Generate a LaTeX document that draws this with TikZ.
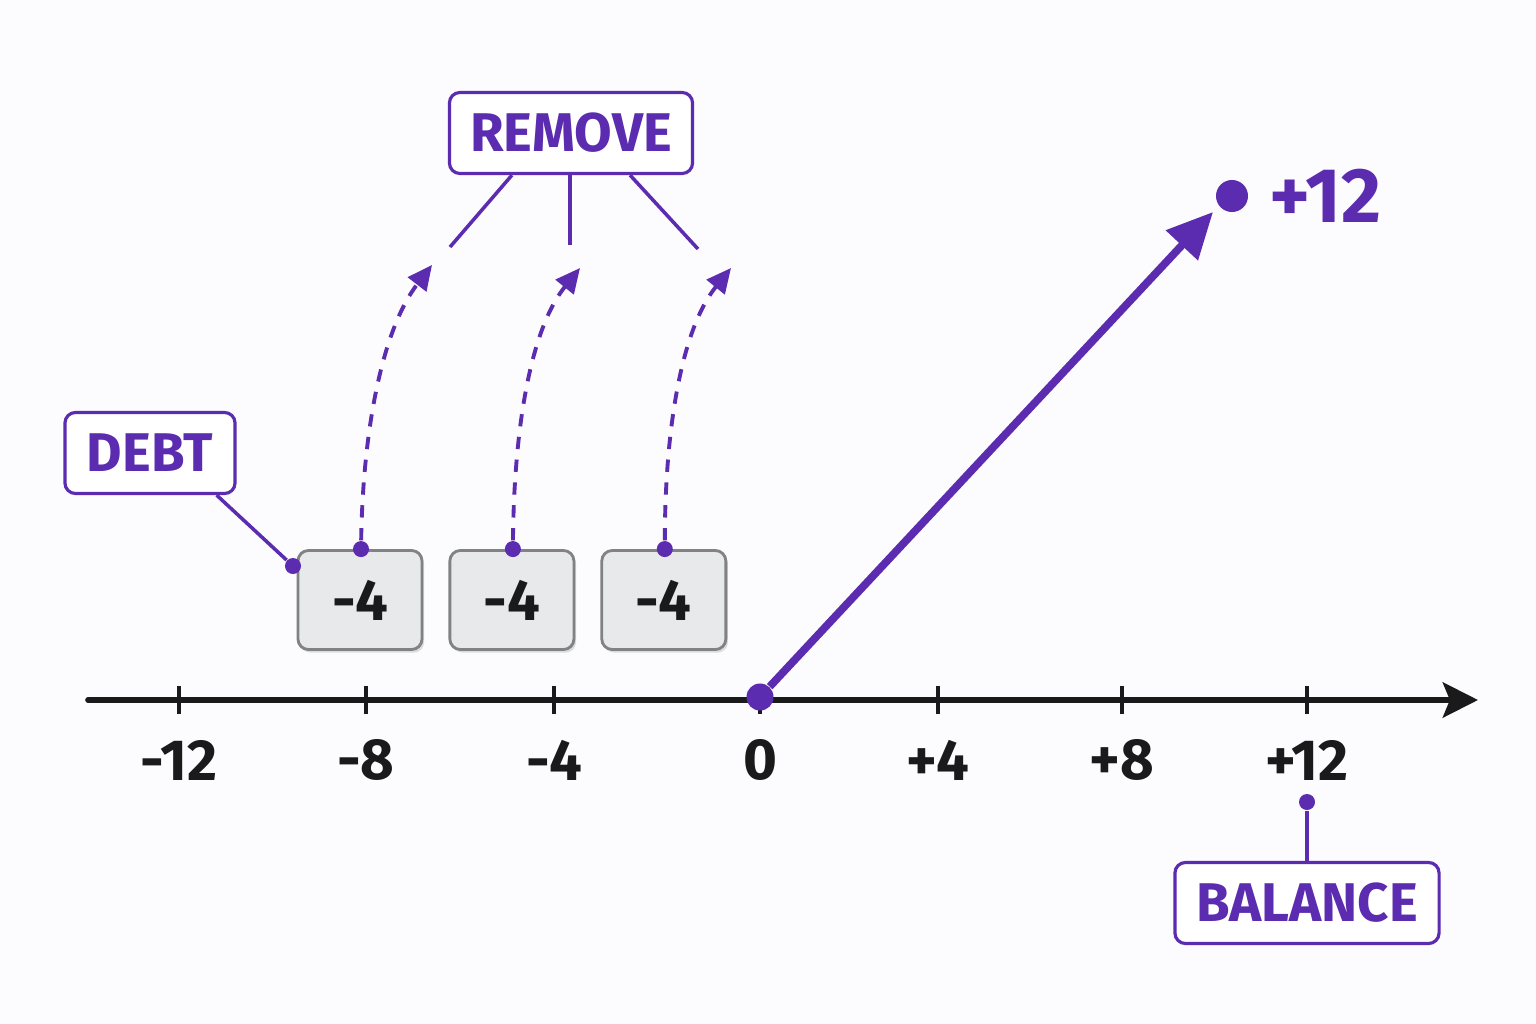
\documentclass[tikz,border=0pt]{standalone}
\usepackage{fontspec}
\setmainfont{Fira Sans}
\usepackage{tikz}
\usetikzlibrary{positioning, arrows.meta, shadows}
\definecolor{purp}{HTML}{5B2BB0}
\definecolor{chipfill}{HTML}{E8E9EB}
\definecolor{chipedge}{HTML}{808285}
\definecolor{ink}{HTML}{1A1A1A}
\definecolor{paper}{HTML}{FCFBFE}

\begin{document}
\begin{tikzpicture}[x=0.01cm, y=-0.01cm]
    % styles
    \tikzstyle{cell} = [rectangle, rounded corners=3pt, minimum width=1.24cm, minimum height=0.99cm, fill=chipfill, draw=chipedge, line width=0.8pt, drop shadow={opacity=0.25, shadow xshift=0.6pt, shadow yshift=-0.9pt}, text=ink, font=\fontsize{16.5}{18}\selectfont\bfseries]
    \tikzstyle{labelbox} = [rectangle, rounded corners=3pt, minimum height=0.81cm, draw=purp, line width=0.9pt, fill=white, text=purp, font=\fontsize{15.5}{18}\selectfont\bfseries]
    \tikzstyle{link} = [line width=1pt, draw=purp]
    \tikzstyle{lift} = [line width=1.1pt, draw=purp, dash pattern=on 3.5pt off 3pt, -{Triangle[length=7pt,width=6.5pt]}]
    \tikzstyle{knob} = [circle, fill=purp, inner sep=0pt, minimum size=0.16cm]
    \tikzstyle{axis} = [line width=1.6pt, draw=ink, line cap=round, -{Stealth[length=10pt,width=10pt,inset=2pt]}]
    \tikzstyle{tick} = [line width=1pt, draw=ink]
    \tikzstyle{ticklabel} = [text=ink, inner sep=0pt, font=\fontsize{16.5}{18}\selectfont\bfseries]
    \tikzstyle{vec} = [line width=2.2pt, draw=purp, -{Triangle[length=13pt,width=12pt]}]

    % canvas
    \fill[paper] (0,0) rectangle (1536,1024);
    \useasboundingbox (0,0) rectangle (1536,1024);

    % number line
    \coordinate (axl) at (88,700);
    \coordinate (axr) at (1478,700);
    \draw [axis] (axl) -- (axr);
    \foreach \x/\t in {179/-12, 366/-8, 554/-4, 760/0, 938/+4, 1122/+8, 1307/+12} {
        \draw [tick] (\x,686) -- (\x,714);
        \node (lab\x) [ticklabel] at (\x,760) {\t};
    }

    % debts
    \node (chip1) [cell] at (360,600) {-4};
    \node (chip2) [cell, right=0.25cm of chip1] {-4};
    \node (chip3) [cell, right=0.25cm of chip2] {-4};
    \node (d1) [knob] at ([xshift=0.01cm]chip1.north) {};
    \node (d2) [knob] at ([xshift=0.01cm]chip2.north) {};
    \node (d3) [knob] at ([xshift=0.01cm]chip3.north) {};

    % remove
    \node (remove) [labelbox, minimum width=2.43cm] at (571,133) {REMOVE};
    \coordinate (r1) at (450,247);
    \coordinate (r2) at (570,245);
    \coordinate (r3) at (698,249);
    \draw [link] ([xshift=-0.59cm]remove.south) -- (r1);
    \draw [link] ([xshift=-0.01cm]remove.south) -- (r2);
    \draw [link] ([xshift=0.59cm]remove.south) -- (r3);
    \coordinate (a1) at (432,265);
    \coordinate (a2) at (580,268);
    \coordinate (a3) at (731,268);
    \draw [lift] (d1) .. controls (363,430) and (382,330) .. (a1);
    \draw [lift] (d2) .. controls (514,430) and (530,330) .. (a2);
    \draw [lift] (d3) .. controls (665,430) and (681,330) .. (a3);

    % debt label
    \node (debt) [labelbox, minimum width=1.70cm] at (150,453) {DEBT};
    \node (dd) [knob] at (293,566) {};
    \draw [link] ([xshift=-0.2cm]debt.south east) -- (dd);

    % balance
    \node (zero) [circle, fill=purp, inner sep=0pt, minimum size=0.27cm] at (760,697) {};
    \node (top) [circle, fill=purp, inner sep=0pt, minimum size=0.32cm] at (1232,196) {};
    \coordinate (tipc) at (1213,212);
    \draw [vec] (zero) -- (tipc);
    \node (toplab) [right=0.2cm of top, inner sep=0pt, text=purp, font=\fontsize{22}{24}\selectfont\bfseries] {+12};
    \node (balance) [labelbox, minimum width=2.64cm] at (1307,903) {BALANCE};
    \node (bd) [knob] at (1307,802) {};
    \draw [link] (balance.north) -- (bd);
\end{tikzpicture}
\end{document}
